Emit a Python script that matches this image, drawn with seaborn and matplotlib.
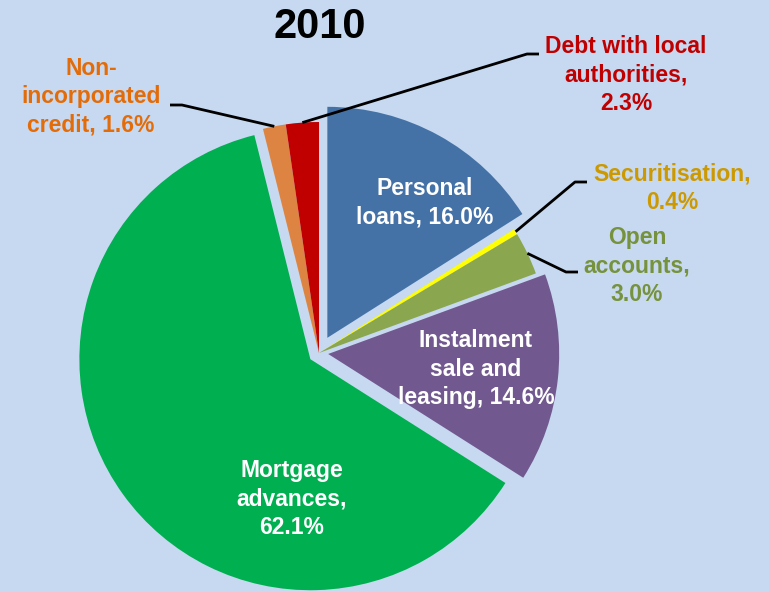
import numpy as np
import matplotlib
matplotlib.use("Agg")
import matplotlib.pyplot as plt
import seaborn as sns

# --- data -------------------------------------------------------------
title = "2010"
categories = ["Personal loans", "Securitisation", "Open accounts",
              "Instalment sale and leasing", "Mortgage advances",
              "Non-incorporated credit", "Debt with local authorities"]
shares = [16.0, 0.4, 3.0, 14.6, 62.1, 1.6, 2.3]

# how each category name is wrapped in the chart, and whether the % goes on a new line
wrapped_names = ["Personal\nloans", "Securitisation", "Open\naccounts",
                 "Instalment\nsale and\nleasing", "Mortgage\nadvances",
                 "Non-\nincorporated\ncredit", "Debt with local\nauthorities"]
pct_on_new_line = [False, True, True, False, True, False, True]

# --- styling ----------------------------------------------------------
BG = "#C6D9F0"
slice_colors = ["#4472A7", "#FFFF00", "#8AA64F", "#71588F",
                "#00AF50", "#DD8443", "#C00000"]
label_colors = ["white", "#CC9900", "#76923C", "white",
                "white", "#E36C09", "#C00000"]
explode = [0.075, 0, 0, 0.04, 0.046, 0, 0]

W, H = 769, 592
CX, CY, R = 319, 353, 231          # pie centre and radius in pixels

# label centres (pixels) and leader elbows for the outside labels
label_pos = [(425, 203), (672, 188), (637, 266), (476, 369),
             (292, 499), (91, 97), (626, 75)]
leader_elbow = {1: [(575, 182), (587, 182)],
                2: [(566, 272), (578, 272)],
                5: [(182, 105), (170, 105)],
                6: [(527, 54), (539, 54)]}


def px(p):
    """pixel position -> data coordinates (radius 1 = R pixels)"""
    return (p[0] - CX) / R, (CY - p[1]) / R


sns.set_theme(style="white", rc={"figure.facecolor": BG, "axes.facecolor": BG})
plt.rcParams["font.family"] = ["Liberation Sans", "DejaVu Sans"]
palette = sns.color_palette(slice_colors)

fig = plt.figure(figsize=(W / 100, H / 100), dpi=100)
ax = fig.add_axes([0, 0, 1, 1])
ax.set_facecolor(BG)

wedges, _ = ax.pie(shares, explode=explode, colors=palette, startangle=90,
                   counterclock=False, radius=1,
                   wedgeprops=dict(linewidth=0))

ax.set_xlim(-CX / R, (W - CX) / R)
ax.set_ylim(-(H - CY) / R, CY / R)
ax.axis("off")

for i, (name, val) in enumerate(zip(wrapped_names, shares)):
    sep = ",\n" if pct_on_new_line[i] else ", "
    txt = f"{name}{sep}{val:.1f}%"
    x, y = px(label_pos[i])
    ax.text(x, y, txt, ha="center", va="center", multialignment="center",
            color=label_colors[i], fontsize=16.5, fontweight="bold",
            linespacing=1.3)
    if i in leader_elbow:
        w = wedges[i]
        mid = np.deg2rad((w.theta1 + w.theta2) / 2)
        ax0 = w.center[0] + w.r * np.cos(mid)
        ay0 = w.center[1] + w.r * np.sin(mid)
        pts = [px(p) for p in leader_elbow[i]]
        ax.plot([ax0] + [p[0] for p in pts], [ay0] + [p[1] for p in pts],
                color="black", lw=2.0, solid_capstyle="butt")

tx, ty = px((319.5, 27))
ax.text(tx, ty, title, ha="center", va="center", fontsize=30,
        fontweight="bold", color="black")

fig.savefig("out.png", dpi=100, facecolor=BG)
